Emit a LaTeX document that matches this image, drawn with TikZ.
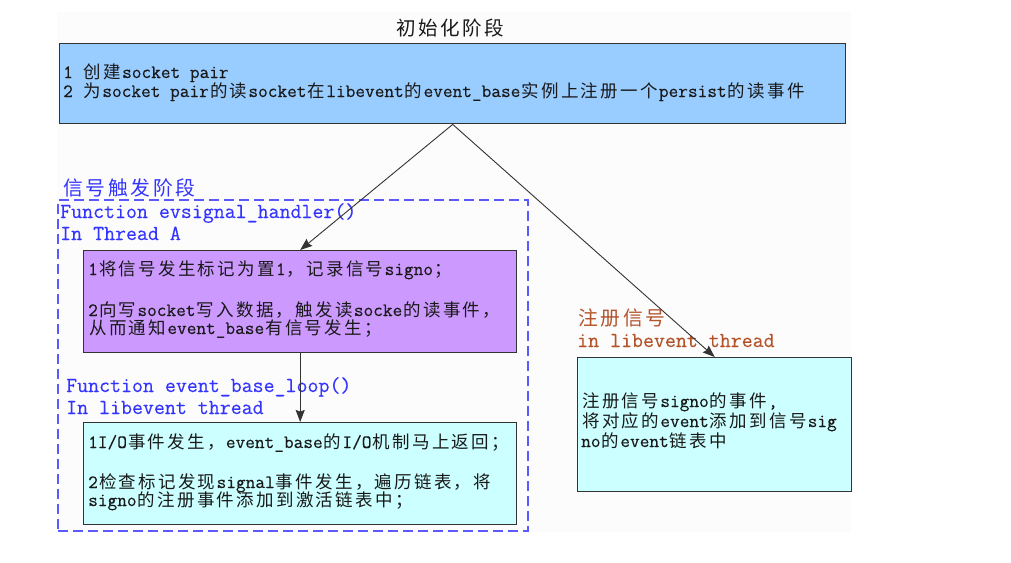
\documentclass[tikz,border=0pt]{standalone}
\usepackage{fontspec}
\setmonofont{Latin Modern Mono}[FakeBold=0.3]
\newfontfamily\cjk[Scale=0.93]{Noto Sans CJK SC}
\usetikzlibrary{arrows.meta}

\definecolor{initfill}{HTML}{99CCFF}
\definecolor{sigfill}{HTML}{CC99FF}
\definecolor{loopfill}{HTML}{CCFFFF}
\definecolor{phaseblue}{HTML}{3434FF}
\definecolor{phasedash}{HTML}{5A5AFF}
\definecolor{regbrown}{HTML}{B4532A}
\definecolor{edge}{HTML}{333333}

% Chinese runs: every character sits in a full-width cell
\def\zhstep#1{\ifx#1\relax\else\kern0.066em#1\kern0.066em\expandafter\zhstep\fi}
\newcommand\zh[1]{{\cjk\zhstep#1\relax}}
\newcommand\bodytext{\fontsize{18.8}{20}\selectfont\ttfamily}
\newcommand\labeltext{\fontsize{21.3}{22}\selectfont\ttfamily}

\tikzset{
  stagebox/.style={draw=edge, line width=1.4pt, rectangle, inner sep=0pt, anchor=north west},
  line/.style={anchor=base west, inner sep=0pt, font=\bodytext, text=black!90},
  tag/.style={anchor=base west, inner sep=0pt, font=\labeltext},
  conn/.style={draw=edge, line width=0.9pt, -{Stealth[length=12pt,width=9pt,inset=1.5pt]}},
}

\begin{document}
\begin{tikzpicture}[x=1pt,y=-1pt]
  \useasboundingbox (0,0) rectangle (1011,562);
  \fill[white] (0,0) rectangle (1011,562);
  \fill[black!1] (57,12) rectangle (851,532);

  % title of the initialisation stage
  \node[anchor=base, inner sep=0pt, font=\fontsize{21}{22}\selectfont, text=black!90] (title) at (450,35) {\zh{初始化阶段}};

  % initialisation box
  \node[stagebox, fill=initfill, minimum width=786pt, minimum height=80pt] (init) at (59,43) {};
  \node[line] (init1) at (63,78) {1 \zh{创建}socket pair};
  \node[line] (init2) at (63,97) {2 \zh{为}socket pair\zh{的读}socket\zh{在}libevent\zh{的}event\_base\zh{实例上注册一个}persist\zh{的读事件}};

  % signal trigger stage: dashed frame and its labels
  \node[draw=phasedash, line width=1.8pt, dash pattern=on 10pt off 5pt, rectangle, inner sep=0pt,
        anchor=north west, minimum width=470pt, minimum height=331pt] (phase) at (57,199) {};
  \node[tag, text=phaseblue] (phasetitle) at (62,195) {\zh{信号触发阶段}};
  \node[tag, text=phaseblue] (handlerfn) at (60,218) {Function evsignal\_handler()};
  \node[tag, text=phaseblue] (handlerth) at (60,240) {In Thread A};

  % handler box
  \node[stagebox, fill=sigfill, minimum width=433pt, minimum height=102pt] (sig) at (83,250) {};
  \node[line] (sig1) at (88,275) {1\zh{将信号发生标记为置}1\zh{，记录信号}signo\zh{；}};
  \node[line] (sig2) at (88,316) {2\zh{向写}socket\zh{写入数据，触发读}socke\zh{的读事件，}};
  \node[line] (sig3) at (88,334) {\zh{从而通知}event\_base\zh{有信号发生；}};

  \node[tag, text=phaseblue] (loopfn) at (66,392) {Function event\_base\_loop()};
  \node[tag, text=phaseblue] (loopth) at (66,414) {In libevent thread};

  % event loop box
  \node[stagebox, fill=loopfill, minimum width=433pt, minimum height=102pt] (loop) at (83,422) {};
  \node[line] (loop1) at (88,448) {1I/O\zh{事件发生，}event\_base\zh{的}I/O\zh{机制马上返回；}};
  \node[line] (loop2) at (88,488) {2\zh{检查标记发现}signal\zh{事件发生，遍历链表，将}};
  \node[line] (loop3) at (88,506) {signo\zh{的注册事件添加到激活链表中；}};

  % signal registration
  \node[tag, text=regbrown] (regtitle) at (577,325) {\zh{注册信号}};
  \node[tag, text=regbrown] (regth) at (577,347) {in libevent thread};
  \node[stagebox, fill=loopfill, minimum width=274pt, minimum height=134pt] (reg) at (577,357) {};
  \node[line] (reg1) at (581,407) {\zh{注册信号}signo\zh{的事件},};
  \node[line] (reg2) at (581,427) {\zh{将对应的}event\zh{添加到信号}sig};
  \node[line] (reg3) at (581,447) {no\zh{的}event\zh{链表中}};

  % connectors
  \draw[conn] (init.south) -- (sig.north);
  \draw[conn] (init.south) -- (reg.north);
  \draw[conn] (sig.south) -- (loop.north);
\end{tikzpicture}
\end{document}
